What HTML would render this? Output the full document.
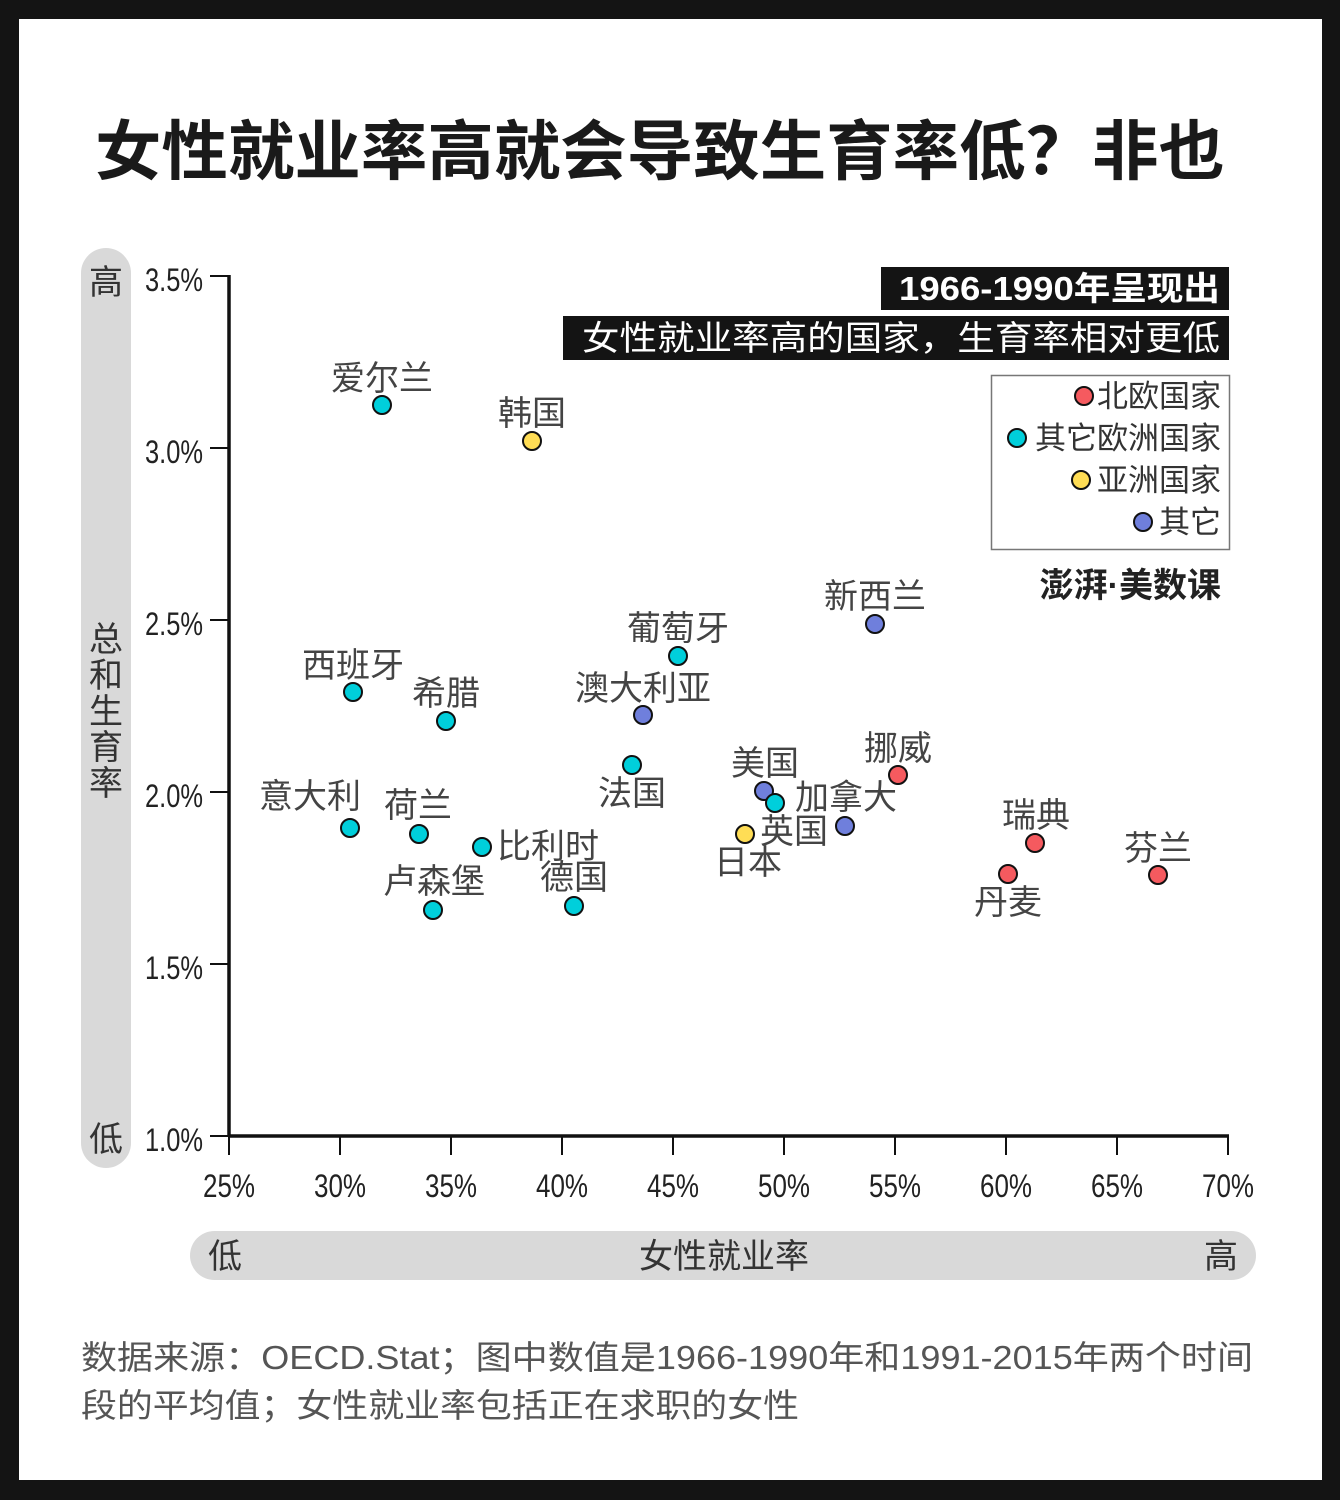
<!DOCTYPE html>
<html><head><meta charset="utf-8"><style>
body{margin:0;background:#141414;}
svg{display:block}
text{font-family:"Liberation Sans","Noto Sans CJK SC",sans-serif;}
</style></head><body>
<svg width="1340" height="1500" xmlns="http://www.w3.org/2000/svg">
<rect x="0" y="0" width="1340" height="1500" fill="#141414"/>
<rect x="19" y="19" width="1303" height="1461" fill="#fff"/>
<text x="95" y="174" font-size="65" font-weight="bold" fill="#1a1a1a" textLength="1130" lengthAdjust="spacingAndGlyphs">女性就业率高就会导致生育率低？非也</text>

<rect x="81" y="248" width="50" height="920" rx="25" fill="#d9d9d9"/>
<g font-size="34" fill="#333" text-anchor="middle">
<text x="106" y="294">高</text>
<text x="106" y="1151">低</text>
<text x="106" y="651">总</text><text x="106" y="687">和</text><text x="106" y="723">生</text><text x="106" y="759">育</text><text x="106" y="795">率</text>
</g>

<rect x="190" y="1231" width="1066" height="49" rx="24.5" fill="#d9d9d9"/>
<g font-size="34" fill="#333">
<text x="208" y="1268">低</text>
<text x="724" y="1268" text-anchor="middle">女性就业率</text>
<text x="1238" y="1268" text-anchor="end">高</text>
</g>

<g stroke="#111" stroke-width="2">
<line x1="210" y1="276" x2="229" y2="276"/><line x1="210" y1="448" x2="229" y2="448"/><line x1="210" y1="620" x2="229" y2="620"/><line x1="210" y1="792" x2="229" y2="792"/><line x1="210" y1="964" x2="229" y2="964"/><line x1="210" y1="1136" x2="229" y2="1136"/>
<line x1="229" y1="1136" x2="229" y2="1155"/><line x1="340" y1="1136" x2="340" y2="1155"/><line x1="451" y1="1136" x2="451" y2="1155"/><line x1="562" y1="1136" x2="562" y2="1155"/><line x1="673" y1="1136" x2="673" y2="1155"/><line x1="784" y1="1136" x2="784" y2="1155"/><line x1="895" y1="1136" x2="895" y2="1155"/><line x1="1006" y1="1136" x2="1006" y2="1155"/><line x1="1117" y1="1136" x2="1117" y2="1155"/><line x1="1228" y1="1136" x2="1228" y2="1155"/>
</g>
<line x1="229" y1="275" x2="229" y2="1137" stroke="#111" stroke-width="3.5"/>
<line x1="228" y1="1136" x2="1229" y2="1136" stroke="#111" stroke-width="3.5"/>

<g font-size="32" fill="#222">
<text x="145" y="291" textLength="58" lengthAdjust="spacingAndGlyphs">3.5%</text><text x="145" y="463" textLength="58" lengthAdjust="spacingAndGlyphs">3.0%</text><text x="145" y="635" textLength="58" lengthAdjust="spacingAndGlyphs">2.5%</text><text x="145" y="807" textLength="58" lengthAdjust="spacingAndGlyphs">2.0%</text><text x="145" y="979" textLength="58" lengthAdjust="spacingAndGlyphs">1.5%</text><text x="145" y="1151" textLength="58" lengthAdjust="spacingAndGlyphs">1.0%</text>
</g>
<g font-size="32" fill="#222">
<text x="203" y="1197" textLength="52" lengthAdjust="spacingAndGlyphs">25%</text><text x="314" y="1197" textLength="52" lengthAdjust="spacingAndGlyphs">30%</text><text x="425" y="1197" textLength="52" lengthAdjust="spacingAndGlyphs">35%</text><text x="536" y="1197" textLength="52" lengthAdjust="spacingAndGlyphs">40%</text><text x="647" y="1197" textLength="52" lengthAdjust="spacingAndGlyphs">45%</text><text x="758" y="1197" textLength="52" lengthAdjust="spacingAndGlyphs">50%</text><text x="869" y="1197" textLength="52" lengthAdjust="spacingAndGlyphs">55%</text><text x="980" y="1197" textLength="52" lengthAdjust="spacingAndGlyphs">60%</text><text x="1091" y="1197" textLength="52" lengthAdjust="spacingAndGlyphs">65%</text><text x="1202" y="1197" textLength="52" lengthAdjust="spacingAndGlyphs">70%</text>
</g>

<rect x="881" y="267" width="348" height="43" fill="#141414"/>
<text x="899" y="300" font-size="33" font-weight="bold" fill="#fff" textLength="321" lengthAdjust="spacingAndGlyphs">1966-1990年呈现出</text>
<rect x="563" y="316" width="666" height="44" fill="#141414"/>
<text x="582" y="350" font-size="34" fill="#fff" textLength="638" lengthAdjust="spacingAndGlyphs">女性就业率高的国家，生育率相对更低</text>

<rect x="991.5" y="375.5" width="238" height="174" fill="#fff" stroke="#777" stroke-width="1.5"/>
<g stroke="#111" stroke-width="2">
<circle cx="1084" cy="396" r="9" fill="#f55a5f"/>
<circle cx="1017" cy="438" r="9" fill="#00cfdb"/>
<circle cx="1081" cy="480" r="9" fill="#ffdd55"/>
<circle cx="1143" cy="522" r="9" fill="#6f7fdc"/>
</g>
<g font-size="31" fill="#333" text-anchor="end">
<text x="1221" y="407">北欧国家</text>
<text x="1221" y="449">其它欧洲国家</text>
<text x="1221" y="491">亚洲国家</text>
<text x="1221" y="533">其它</text>
</g>
<text x="1221" y="597" text-anchor="end" font-size="34" font-weight="bold" fill="#222">澎湃·美数课</text>

<g font-size="34" fill="#444" text-anchor="middle">
<text x="382" y="390">爱尔兰</text>
<text x="532" y="425">韩国</text>
<text x="875" y="608">新西兰</text>
<text x="678" y="640">葡萄牙</text>
<text x="353" y="677">西班牙</text>
<text x="446" y="705">希腊</text>
<text x="643" y="700">澳大利亚</text>
<text x="632" y="805">法国</text>
<text x="765" y="775">美国</text>
<text x="898" y="760">挪威</text>
<text x="846" y="809">加拿大</text>
<text x="794" y="843">英国</text>
<text x="748" y="874">日本</text>
<text x="310" y="808">意大利</text>
<text x="418" y="817">荷兰</text>
<text x="548" y="858">比利时</text>
<text x="434" y="893">卢森堡</text>
<text x="574" y="889">德国</text>
<text x="1036" y="827">瑞典</text>
<text x="1008" y="914">丹麦</text>
<text x="1158" y="860">芬兰</text>
</g>
<g stroke="#111" stroke-width="2">
<circle cx="382" cy="405" r="9" fill="#00cfdb"/>
<circle cx="532" cy="441" r="9" fill="#ffdd55"/>
<circle cx="875" cy="624" r="9" fill="#6f7fdc"/>
<circle cx="678" cy="656" r="9" fill="#00cfdb"/>
<circle cx="353" cy="692" r="9" fill="#00cfdb"/>
<circle cx="446" cy="721" r="9" fill="#00cfdb"/>
<circle cx="643" cy="715" r="9" fill="#6f7fdc"/>
<circle cx="632" cy="765" r="9" fill="#00cfdb"/>
<circle cx="898" cy="775" r="9" fill="#f55a5f"/>
<circle cx="764" cy="791" r="9" fill="#6f7fdc"/>
<circle cx="775" cy="803" r="9" fill="#00cfdb"/>
<circle cx="845" cy="826" r="9" fill="#6f7fdc"/>
<circle cx="745" cy="834" r="9" fill="#ffdd55"/>
<circle cx="350" cy="828" r="9" fill="#00cfdb"/>
<circle cx="419" cy="834" r="9" fill="#00cfdb"/>
<circle cx="482" cy="847" r="9" fill="#00cfdb"/>
<circle cx="433" cy="910" r="9" fill="#00cfdb"/>
<circle cx="574" cy="906" r="9" fill="#00cfdb"/>
<circle cx="1035" cy="843" r="9" fill="#f55a5f"/>
<circle cx="1008" cy="874" r="9" fill="#f55a5f"/>
<circle cx="1158" cy="875" r="9" fill="#f55a5f"/>
</g>

<g font-size="33" fill="#555">
<text x="81" y="1369" textLength="1172" lengthAdjust="spacingAndGlyphs">数据来源：OECD.Stat；图中数值是1966-1990年和1991-2015年两个时间</text>
<text x="81" y="1417" textLength="718" lengthAdjust="spacingAndGlyphs">段的平均值；女性就业率包括正在求职的女性</text>
</g>
</svg>
</body></html>
